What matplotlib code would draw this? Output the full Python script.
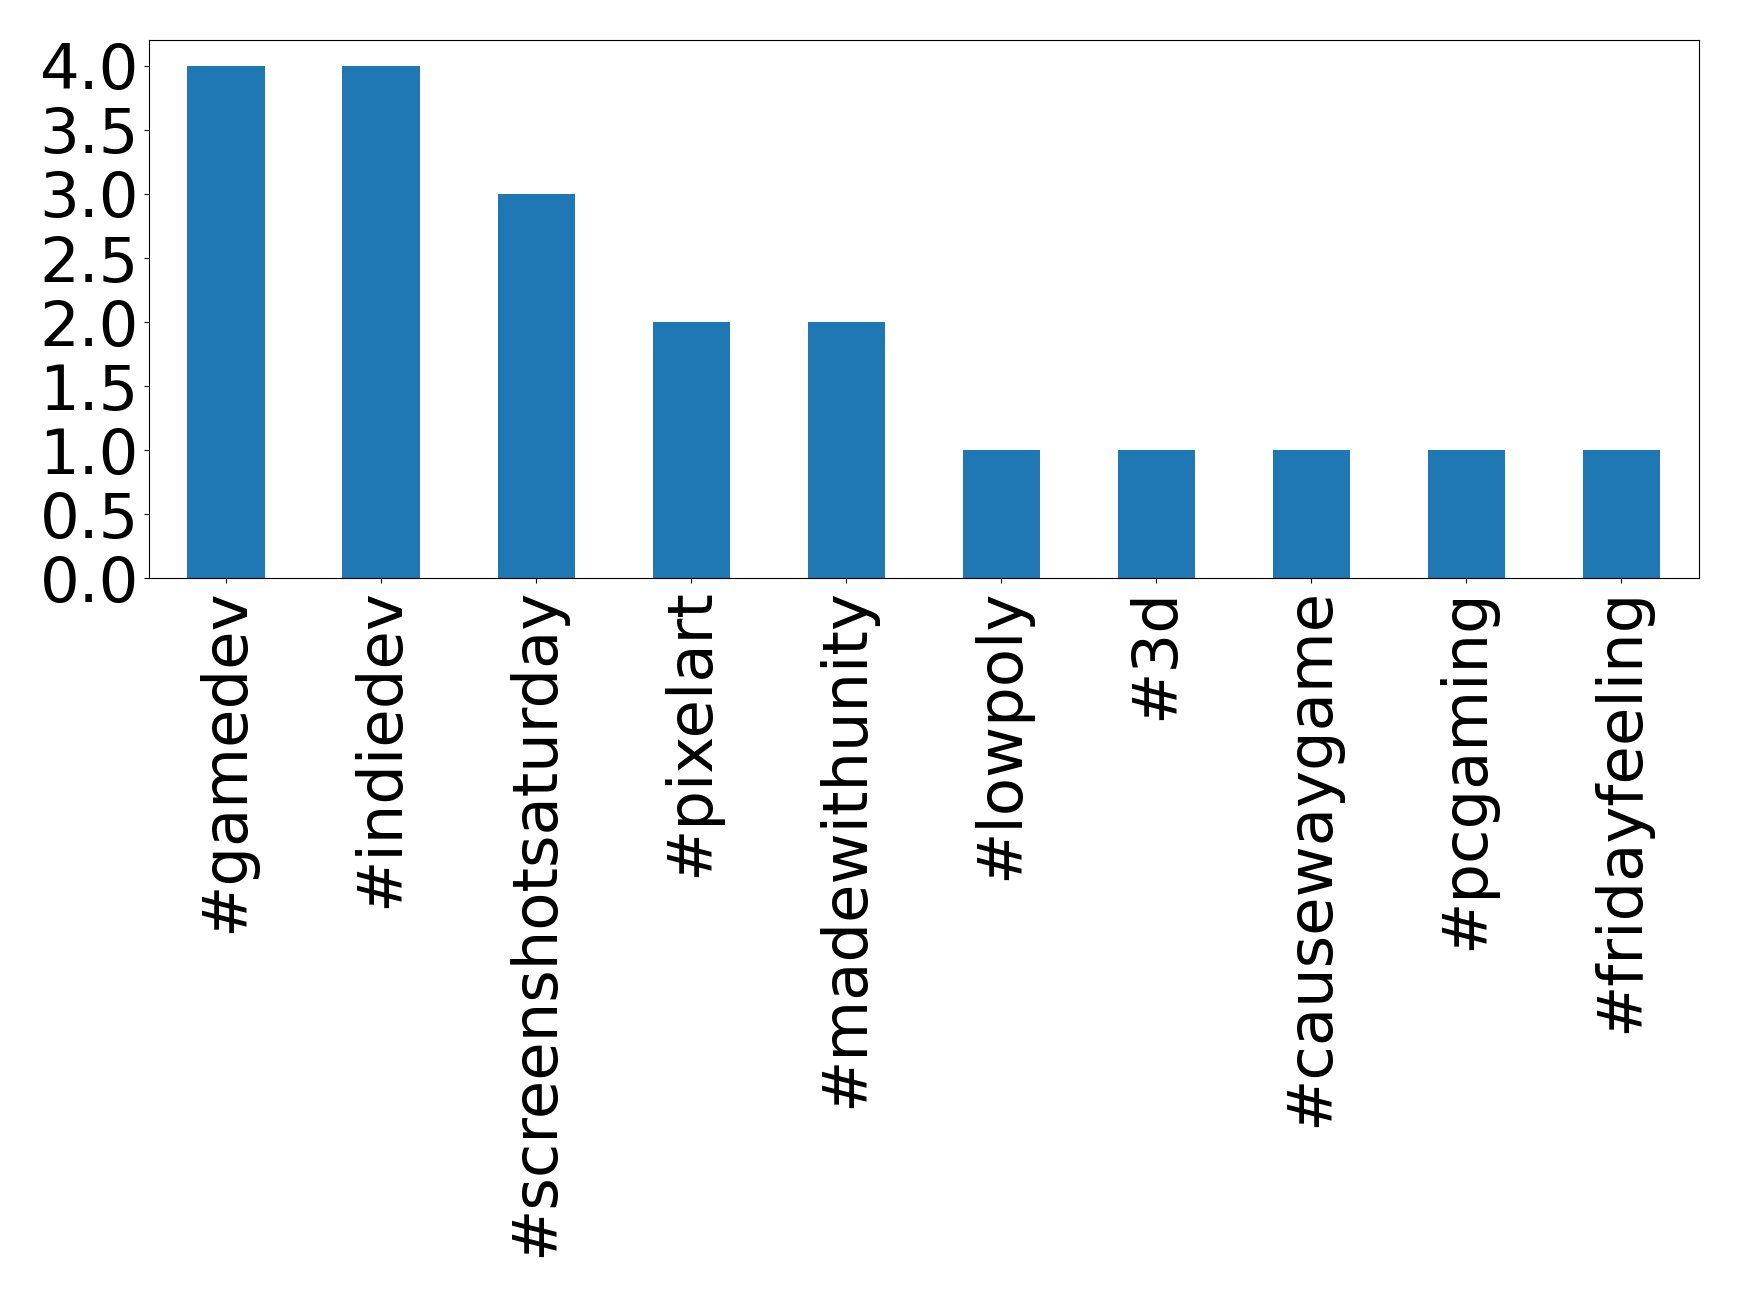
import matplotlib
matplotlib.use("Agg")
import matplotlib.pyplot as plt

hashtags = ["#gamedev", "#indiedev", "#screenshotsaturday", "#pixelart", "#madewithunity",
            "#lowpoly", "#3d", "#causewaygame", "#pcgaming", "#fridayfeeling"]
counts = [4, 4, 3, 2, 2, 1, 1, 1, 1, 1]

fig = plt.figure(figsize=(17.39, 12.97), dpi=100)
ax = fig.add_axes([0.0855, 0.554, 0.8915, 0.415])
x = list(range(len(hashtags)))
ax.bar(x, counts, width=0.5, color="#1f77b4")
ax.set_xlim(-0.5, len(hashtags) - 0.5)
ax.set_ylim(0, 4.2)
ax.set_xticks(x)
ax.set_xticklabels(hashtags, rotation=90, fontsize=45)
ax.set_yticks([0, 0.5, 1.0, 1.5, 2.0, 2.5, 3.0, 3.5, 4.0])
ax.set_yticklabels(["0.0", "0.5", "1.0", "1.5", "2.0", "2.5", "3.0", "3.5", "4.0"], fontsize=45)
fig.savefig("out.png", dpi=100)
